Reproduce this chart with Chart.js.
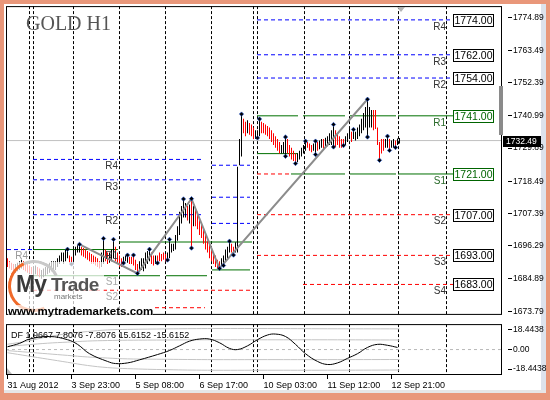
<!DOCTYPE html>
<html>
<head>
<meta charset="utf-8">
<script src="https://cdn.jsdelivr.net/npm/chart.js@4.4.0/dist/chart.umd.min.js"></script>
<style>
html, body { margin: 0; padding: 0; }
body { width: 550px; height: 400px; background: #e9977a; position: relative; overflow: hidden; }
#frame { position: absolute; left: 4px; top: 4px; width: 542px; height: 389px; background: #fff; }
#strip { position: absolute; left: 541px; top: 4px; width: 5px; height: 389px; background: #dde3ec; }
#bottom { position: absolute; left: 4px; top: 390px; width: 542px; height: 3px; background: #e6e6e6; }
canvas { position: absolute; left: 0; }
#main { top: 0; }
#sub { top: 318px; }
#title { position: absolute; left: 26px; top: 12px; font: 20px "Liberation Serif", serif; color: #555; }
#fade { position: absolute; left: 8px; top: 262px; width: 96px; height: 44px; background: rgba(255,255,255,0.72); }
#ring { position: absolute; left: 8px; top: 260px; width: 46px; height: 46px; border-radius: 50%;
        border: 3px solid transparent; border-left-color: #f06a2a; border-bottom-color: #f06a2a;
        border-top-color: #c9c9c9; transform: rotate(20deg); }
#my { position: absolute; left: 16px; top: 273px; font: bold 23px/23px "Liberation Sans", sans-serif; color: #3a3a3a; letter-spacing: -1px; }
#trade { position: absolute; left: 51px; top: 275px; font: bold 19px/19px "Liberation Sans", sans-serif; color: #555; letter-spacing: -0.6px; }
#mk { position: absolute; left: 54px; top: 292px; font: 8px "Liberation Sans", sans-serif; color: #777; }
#www { position: absolute; left: 8px; top: 305px; font: bold 11.5px/12px "Liberation Sans", sans-serif; color: #000; background: rgba(255,255,255,0.7); }
</style>
</head>
<body>
<div id="frame"></div>
<div id="strip"></div>
<div id="bottom"></div>
<canvas id="main" width="550" height="320"></canvas>
<canvas id="sub" width="550" height="80"></canvas>
<div id="title">GOLD H1</div>
<div id="fade"></div>
<div id="ring"></div>
<div id="my">My</div>
<div id="trade">Trade</div>
<div id="mk">markets</div>
<div id="www">www.mytrademarkets.com</div>
<script>
const FONT = '"Liberation Sans", Arial, sans-serif';

// hourly bars, 31 Aug 2012 .. 12 Sep 2012
const barLow = [
  1689, 1688.5, 1688, 1687.5, 1687, 1687.5, 1688, 1688.5, 1688, 1687.5,
  1687, 1687, 1686.5, 1686, 1686.5, 1686, 1685.5, 1685, 1685.5, 1686,
  1686.5, 1687, 1687.5, 1688, 1688, 1689, 1690, 1691, 1690, 1691,
  1692, 1690.5, 1690, 1691, 1693, 1694, 1694, 1693, 1692.5, 1692,
  1691.5, 1691, 1690, 1690, 1689.5, 1689, 1688.5, 1689, 1690, 1691,
  1690, 1690.5, 1691, 1692, 1691, 1690, 1689, 1689, 1690.4, 1691,
  1690.5, 1690, 1690, 1689.5, 1688, 1686.8, 1687.5, 1688, 1687.5, 1688.5,
  1690, 1691, 1690, 1689.5, 1690, 1690.4, 1691, 1691, 1691.5, 1691,
  1691.4, 1692, 1694, 1694.5, 1695, 1698, 1700, 1704, 1706, 1706,
  1705, 1704, 1695.5, 1703, 1703, 1702, 1700, 1699, 1697, 1695,
  1694, 1692, 1691, 1690, 1689, 1688.5, 1688.5, 1689, 1689.5, 1691,
  1692, 1694, 1694, 1693.1, 1694, 1694, 1724, 1727, 1735, 1734,
  1735, 1734.5, 1734, 1733, 1733, 1733.4, 1734, 1735, 1735, 1734.5,
  1734, 1733, 1732, 1731, 1730, 1729, 1728, 1728, 1728, 1727.1,
  1728, 1727, 1726, 1725.5, 1724.6, 1725, 1726, 1727, 1728, 1729,
  1730, 1729, 1728.5, 1729, 1727.7, 1729, 1729.5, 1730, 1729.5, 1730,
  1730.5, 1731, 1731, 1730.3, 1730.3, 1731, 1730, 1730, 1730.8, 1731,
  1732, 1733, 1732, 1733, 1732.5, 1733, 1734, 1735, 1736, 1737,
  1733.7, 1737, 1737, 1736, 1736.5, 1731, 1725.7, 1728, 1729, 1730,
  1730, 1729.1, 1730, 1730, 1730.1, 1731, 1731.5
];
const barHigh = [
  1692, 1691, 1690.5, 1690, 1690, 1690.5, 1691, 1691.5, 1691, 1690.5,
  1690, 1689.5, 1689, 1689, 1689.5, 1689, 1688.5, 1688, 1688.5, 1689,
  1690, 1690.5, 1691, 1691, 1691, 1692, 1693, 1694, 1694, 1695,
  1695.1, 1693, 1692.5, 1695, 1696, 1696.5, 1696.8, 1696, 1695.5, 1695,
  1694.5, 1694, 1693.5, 1693, 1692.5, 1692, 1691, 1694, 1698.8, 1695,
  1694, 1694, 1695, 1698.5, 1696, 1694, 1693, 1692, 1692.5, 1693,
  1693.1, 1692.5, 1692.5, 1693.1, 1691.5, 1690, 1691, 1692, 1692, 1694,
  1694.5, 1695.1, 1694, 1693, 1693, 1693, 1694, 1693.5, 1694, 1693.5,
  1694, 1698.5, 1697, 1697, 1700, 1703, 1708, 1710, 1712.4, 1711,
  1710, 1710.5, 1712.5, 1710, 1709, 1708, 1706, 1704, 1702, 1700,
  1698, 1697, 1695, 1694, 1693, 1691.5, 1691, 1692, 1693, 1695,
  1696, 1697.9, 1697, 1696, 1697.5, 1723.5, 1733, 1741.6, 1740, 1739,
  1739.5, 1738.5, 1738, 1737, 1736, 1736, 1739.9, 1739, 1738.5, 1738,
  1737.5, 1737, 1736, 1735, 1734, 1733, 1732, 1731, 1732, 1733.7,
  1733, 1731, 1730, 1729, 1728, 1728, 1729, 1730, 1731, 1732.3,
  1732, 1731.5, 1731, 1731.5, 1732.3, 1732, 1732.5, 1733, 1733, 1733.5,
  1734, 1735, 1736, 1738, 1736, 1735, 1734, 1733, 1733, 1734,
  1735, 1736.5, 1735.5, 1736.3, 1735.5, 1737, 1738, 1740, 1742, 1744,
  1746.7, 1744, 1743, 1743, 1743, 1737, 1732, 1733, 1733, 1733,
  1734, 1733, 1732.5, 1733, 1732.5, 1733.2, 1733.4
];
const barUp = [
  0, 0, 0, 0, 1, 1, 1, 1, 0, 0,  0, 0, 0, 1, 1, 0, 0, 1, 1, 1,
  1, 1, 1, 1, 1, 1, 1, 1, 1, 1,  1, 0, 0, 1, 1, 1, 1, 0, 0, 0,
  0, 0, 0, 0, 0, 0, 0, 1, 1, 0,  0, 1, 1, 1, 0, 0, 0, 0, 1, 1,
  1, 0, 0, 0, 0, 0, 1, 1, 1, 1,  1, 1, 0, 0, 1, 0, 0, 0, 0, 0,
  1, 1, 1, 1, 1, 1, 1, 1, 1, 1,  0, 1, 0, 1, 0, 0, 0, 0, 0, 0,
  0, 0, 0, 0, 0, 0, 0, 1, 1, 1,  1, 1, 0, 0, 1, 1, 1, 1, 0, 0,
  1, 0, 0, 0, 1, 1, 1, 0, 0, 0,  0, 0, 0, 0, 0, 0, 0, 1, 1, 1,
  0, 0, 0, 0, 0, 1, 1, 1, 1, 1,  0, 0, 0, 1, 1, 0, 1, 1, 0, 1,
  1, 1, 1, 1, 0, 0, 0, 0, 0, 1,  1, 1, 0, 1, 1, 1, 1, 1, 1, 1,
  1, 1, 1, 0, 0, 0, 0, 0, 0, 1,  1, 0, 1, 1, 0, 1, 1
];

const fracHighBars = [30, 36, 48, 53, 60, 63, 71, 81, 88, 92, 111, 117, 126, 139, 149, 154, 163, 173, 180, 190];
const fracLowBars = [32, 58, 65, 75, 80, 92, 106, 108, 113, 125, 139, 144, 154, 163, 168, 180, 186, 191, 194];

const zigBars = [36, 65, 92, 106, 180];
const zigPrice = [1696.8, 1686.8, 1712.5, 1688.5, 1746.7];

const lastPrice = 1732.49;

// [price, from bar, to bar]
const resLevels = [
  [1695, -0.25, 12.25],
  [1726, 12.75, 55.25], [1726, 56.25, 97.75],
  [1719, 12.75, 55.25], [1719, 56.25, 97.75],
  [1707, 12.75, 55.25], [1707, 56.25, 97.75],
  [1724, 102.25, 121.25], [1713, 102.25, 121.25], [1704, 102.25, 121.25],
  [1774, 124.75, 222.75], [1762, 124.75, 222.75], [1754, 124.75, 222.75]
];
const midLevels = [
  [1695, 12.75, 55.25], [1697.6, 55.75, 122.25],
  [1686, 12.75, 55.25], [1686, 55.75, 76.25], [1686, 79.25, 99.75],
  [1688, 102.25, 121.25],
  [1728, 124.75, 145.25],
  [1741, 124.75, 145.25], [1741, 147.75, 168.75], [1741, 171.25, 194.25], [1741, 195.25, 222.75],
  [1721, 141.75, 168.75], [1721, 171.25, 194.25], [1721, 195.25, 222.75]
];
const supLevels = [
  [1681, 12.75, 55.25], [1681, 56.25, 121.25],
  [1675, 73.75, 98.75],
  [1721, 124.75, 141.25],
  [1707, 124.75, 222.75], [1693, 124.75, 222.75], [1683, 147.75, 222.75]
];

const oldNames = ['R4', 'R3', 'R2', 'R1', 'S1', 'S2'];
const oldPrices = [1726, 1719, 1707, 1695, 1686, 1681];
const oldLabelBar = 55.25;
const newNames = ['R4', 'R3', 'R2', 'R1', 'S1', 'S2', 'S3', 'S4'];
const newPrices = [1774, 1762, 1754, 1741, 1721, 1707, 1693, 1683];
const newLabelBar = 219.25;
const boxBar = 222.75;

const priceTicks = [1774.89, 1763.49, 1752.39, 1740.99, 1729.89, 1718.49, 1707.39, 1696.29, 1684.89, 1673.79];

const daySeparators = [10.75, 12.75, 32.75, 55.75, 78.75, 101.75, 122.75, 124.75, 148.25, 170.75, 195.25, 219.25];
const timeTickBars = [0, 32, 64, 96, 128, 160, 192];
const timeLabels = ['31 Aug 2012', '3 Sep 23:00', '5 Sep 08:00', '6 Sep 17:00', '10 Sep 03:00', '11 Sep 12:00', '12 Sep 21:00'];

// DF oscillator
const oscBars = [0, 6, 11, 21, 30, 35, 41, 50, 54, 60, 66, 75, 81, 86, 91, 96, 101, 106, 111, 115,
  120, 125, 130, 134, 139, 144, 149, 155, 160, 165, 170, 175, 180, 185, 190, 195];
const oscValues = [2.6, 5.8, 9.9, 12.3, 9.3, 4.9, -3.9, -11.2, -13.2, -12.6, -9.7, -4.7, -0.9, 3.5, 7.9, 9.9, 9.9, 6.4, 1.1, 0,
  3.5, 9.3, 13.7, 14.6, 12.3, 4.9, -3.9, -11.2, -14.1, -12.6, -8.3, -3.9, 2.0, 4.9, 4.0, 1.97];
const bandBars = [0, 10, 20, 30, 40, 50, 60, 80, 100, 130, 160, 196];
const bandUp2 = [5, 8, 12, 15, 17, 18.5, 19, 19.5, 19.8, 19.8, 19.6, 19.5];
const bandUp1 = [3, 4.5, 6, 7, 8, 8.5, 8.8, 9, 9.2, 9.2, 9.2, 9];
const bandLo1 = [-1, -2.5, -4, -5.5, -7, -8, -8.8, -9.2, -9.5, -9.5, -9.5, -9.4];
const bandLo2 = [-3, -6, -9, -12, -15, -17, -18, -19, -19.5, -19.5, -19.5, -19.3];
const oscTicks = [18.4438, 0, -18.4438];
const dfText = 'DF 1.9667 7.8076 -7.8076 15.6152 -15.6152';

const xMin = -0.75, xMax = 247.25;

function levelSet(l, color, dash) {
  return {
    type: 'line', data: [{x: l[1], y: l[0]}, {x: l[2], y: l[0]}],
    borderColor: color, borderWidth: 1, borderDash: dash, pointRadius: 0, order: 5
  };
}

function sepAxis() {
  return {
    type: 'linear', min: xMin, max: xMax, position: 'bottom', offset: false,
    afterBuildTicks: s => { s.ticks = daySeparators.map(v => ({value: v})); },
    afterFit: s => { s.height = 0; },
    ticks: {display: false},
    grid: {drawTicks: false, color: '#000', lineWidth: 1, offset: false},
    border: {display: false, dash: [3, 2]}
  };
}

function priceAxisTicks() {
  return {drawOnChartArea: false, tickLength: 10, tickColor: '#000', tickWidth: 1,
    tickBorderDash: [4, 6], tickBorderDashOffset: 4};
}

const mainDecor = {
  id: 'mainDecor',
  afterDatasetsDraw(chart) {
    const {ctx, scales: {x, y}} = chart;
    ctx.save();
    ctx.font = '10px ' + FONT;
    ctx.textAlign = 'right';
    ctx.textBaseline = 'top';
    oldNames.forEach((n, k) => {
      ctx.fillStyle = n === 'S1' || n === 'S2' ? '#aaa' : '#333';
      ctx.fillText(n, x.getPixelForValue(oldLabelBar), y.getPixelForValue(oldPrices[k]) + 2);
    });
    ctx.fillStyle = '#999';
    ctx.fillText('R4', x.getPixelForValue(10.25), y.getPixelForValue(1695) + 2);
    newNames.forEach((n, k) => {
      ctx.fillStyle = n === 'R1' || n === 'S1' ? '#2a6a2a' : '#333';
      ctx.fillText(n, x.getPixelForValue(newLabelBar), y.getPixelForValue(newPrices[k]) + 2);
    });
    ctx.font = '10.5px ' + FONT;
    ctx.textAlign = 'center';
    ctx.textBaseline = 'middle';
    newPrices.forEach((p, k) => {
      const green = newNames[k] === 'R1' || newNames[k] === 'S1';
      const col = green ? '#006400' : '#000';
      const bx = Math.round(x.getPixelForValue(boxBar)) + 0.5;
      const by = Math.round(y.getPixelForValue(p)) - 5.5;
      ctx.fillStyle = '#fff';
      ctx.fillRect(bx, by, 40, 12);
      ctx.strokeStyle = col;
      ctx.lineWidth = 1;
      ctx.strokeRect(bx, by, 40, 12);
      ctx.fillStyle = col;
      ctx.fillText(p.toFixed(2), bx + 20, by + 6.5);
    });
    ctx.restore();
  },
  afterDraw(chart) {
    const {ctx, chartArea: a, scales: {x, y}} = chart;
    ctx.save();
    ctx.strokeStyle = '#000';
    ctx.lineWidth = 1;
    ctx.strokeRect(a.left + 0.5, a.top + 0.5, a.right - a.left - 1, a.bottom - a.top);
    // shift marker
    const sx = x.getPixelForValue(196.75);
    ctx.fillStyle = '#b4b4b4';
    ctx.beginPath();
    ctx.moveTo(sx - 4, a.top + 1); ctx.lineTo(sx + 4, a.top + 1); ctx.lineTo(sx, a.top + 6);
    ctx.closePath(); ctx.fill();
    // scale bar
    ctx.fillStyle = '#8a8a8a';
    ctx.fillRect(a.right - 3, 86, 4, 49);
    // last price label
    const py = Math.round(y.getPixelForValue(lastPrice));
    ctx.fillStyle = '#000';
    ctx.fillRect(a.right + 1, py - 5, 38, 11);
    ctx.fillStyle = '#fff';
    ctx.font = '8.5px ' + FONT;
    ctx.textAlign = 'left';
    ctx.textBaseline = 'middle';
    ctx.fillText(lastPrice.toFixed(2), a.right + 4, py + 0.5);
    ctx.restore();
  }
};

const mainSets = [];
resLevels.forEach(l => mainSets.push(levelSet(l, '#0000ff', [4, 3])));
midLevels.forEach(l => mainSets.push(levelSet(l, '#007000', [])));
supLevels.forEach(l => mainSets.push(levelSet(l, '#ff0000', [4, 3])));
mainSets.push({
  type: 'line', data: [{x: xMin, y: lastPrice}, {x: xMax, y: lastPrice}],
  borderColor: '#c0c0c0', borderWidth: 1, pointRadius: 0, order: 6
});
mainSets.push({
  type: 'bar',
  data: barHigh.map((h, i) => ({x: i, y: [barLow[i], h]})),
  backgroundColor: barUp.map(u => u ? '#000000' : '#ff0000'),
  barThickness: 1, borderWidth: 0, inflateAmount: 0, order: 3
});
mainSets.push({
  type: 'line', data: zigBars.map((b, k) => ({x: b, y: zigPrice[k]})),
  borderColor: '#8c8c8c', borderWidth: 2, pointRadius: 0, order: 2
});
mainSets.push({
  type: 'line', showLine: false,
  data: fracHighBars.map(i => ({x: i, y: barHigh[i]})).concat(fracLowBars.map(i => ({x: i, y: barLow[i]}))),
  pointStyle: 'rectRot', pointRadius: 2.2, pointBackgroundColor: '#000', pointBorderColor: '#1a4fd0',
  pointBorderWidth: 0.6, order: 1
});

new Chart(document.getElementById('main'), {
  type: 'line',
  data: {datasets: mainSets},
  options: {
    responsive: false, animation: false, devicePixelRatio: 1, events: [],
    layout: {padding: {left: 6, top: 6, right: 0, bottom: 3}, autoPadding: false},
    plugins: {legend: {display: false}, tooltip: {enabled: false}},
    scales: {
      x: sepAxis(),
      y: {
        type: 'linear', position: 'right', min: 1672.87, max: 1778.74,
        afterBuildTicks: s => { s.ticks = priceTicks.map(v => ({value: v})); },
        afterFit: s => { s.width = 48; },
        ticks: {callback: v => v.toFixed(2), autoSkip: false, padding: 1, color: '#000', font: {family: FONT, size: 8.5}},
        grid: priceAxisTicks(),
        border: {display: false}
      }
    }
  },
  plugins: [mainDecor]
});

const subDecor = {
  id: 'subDecor',
  afterDraw(chart) {
    const {ctx, chartArea: a} = chart;
    ctx.save();
    ctx.strokeStyle = '#000';
    ctx.lineWidth = 1;
    ctx.strokeRect(a.left + 0.5, a.top + 0.5, a.right - a.left - 1, a.bottom - a.top - 1);
    ctx.fillStyle = '#bbb';
    ctx.beginPath();
    ctx.moveTo(a.left + 1, a.bottom - 7); ctx.lineTo(a.left + 1, a.bottom - 1); ctx.lineTo(a.left + 6, a.bottom - 1);
    ctx.closePath(); ctx.fill();
    ctx.fillStyle = '#000';
    ctx.font = '9px ' + FONT;
    ctx.textAlign = 'left';
    ctx.textBaseline = 'middle';
    ctx.fillText(dfText, a.left + 5, a.top + 11);
    ctx.restore();
  }
};

function band(vals) {
  return {
    type: 'line', data: bandBars.map((b, k) => ({x: b, y: vals[k]})),
    borderColor: '#c4c4c4', borderWidth: 1, pointRadius: 0, tension: 0.4, order: 4
  };
}

new Chart(document.getElementById('sub'), {
  type: 'line',
  data: {
    datasets: [
      {type: 'line', data: [{x: xMin, y: 0}, {x: xMax, y: 0}], borderColor: '#b8b8b8', borderWidth: 1,
        borderDash: [3, 3], pointRadius: 0, order: 5},
      band(bandUp2), band(bandUp1), band(bandLo1), band(bandLo2),
      {type: 'line', data: oscBars.map((b, k) => ({x: b, y: oscValues[k]})),
        borderColor: '#000', borderWidth: 1, pointRadius: 0, tension: 0.4, order: 1}
    ]
  },
  options: {
    responsive: false, animation: false, devicePixelRatio: 1, events: [],
    layout: {padding: {left: 6, top: 2, right: 0, bottom: 0}, autoPadding: false},
    plugins: {legend: {display: false}, tooltip: {enabled: false}},
    scales: {
      x: {
        type: 'linear', min: xMin, max: xMax, position: 'bottom', offset: false,
        afterBuildTicks: s => { s.ticks = timeTickBars.map(v => ({value: v})); },
        afterFit: s => { s.height = 23; },
        ticks: {callback: (v, i) => timeLabels[i], align: 'start', maxRotation: 0, minRotation: 0,
          autoSkip: false, padding: 1, color: '#000', font: {family: FONT, size: 9}},
        grid: {drawOnChartArea: false, tickLength: 4, tickColor: '#000', offset: false},
        border: {display: false}
      },
      sep: sepAxis(),
      y: {
        type: 'linear', position: 'right', min: -24, max: 24,
        afterBuildTicks: s => { s.ticks = oscTicks.map(v => ({value: v})); },
        afterFit: s => { s.width = 48; },
        ticks: {callback: v => v === 0 ? '0.00' : v.toFixed(4), autoSkip: false, padding: 1, color: '#000',
          font: {family: FONT, size: 8.5}},
        grid: priceAxisTicks(),
        border: {display: false}
      }
    }
  },
  plugins: [subDecor]
});
</script>
</body>
</html>
